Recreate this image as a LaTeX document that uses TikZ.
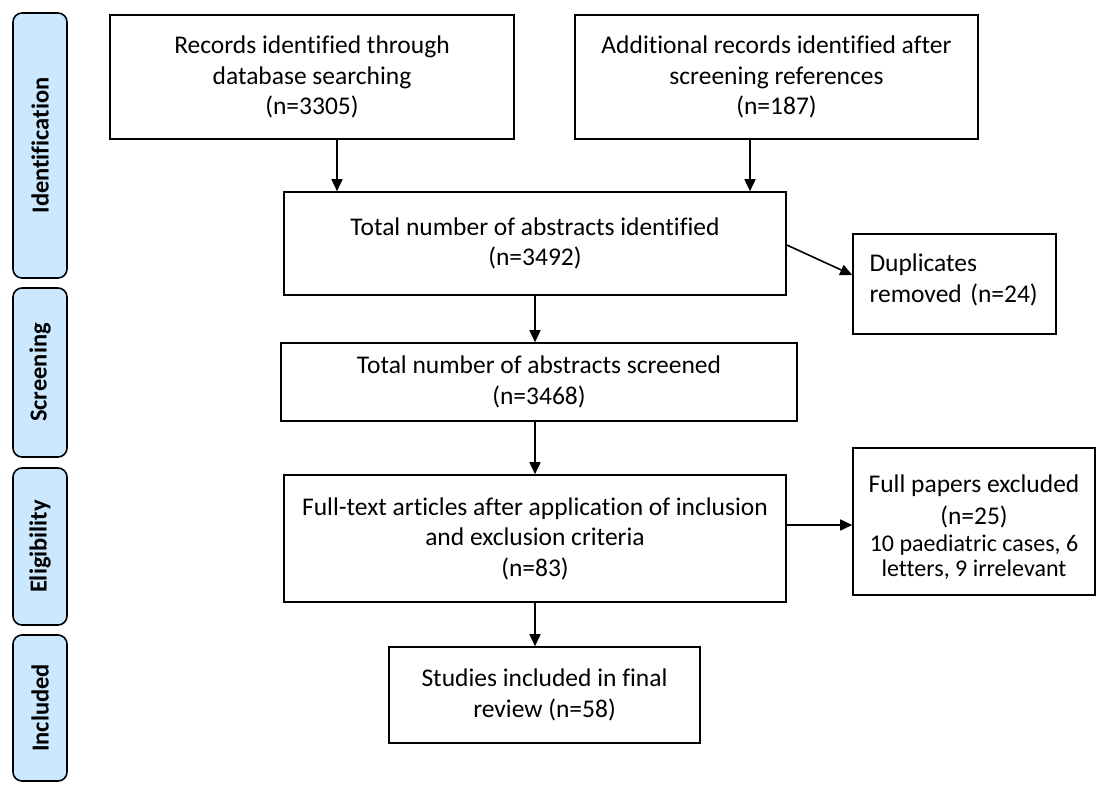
\documentclass[tikz,border=0pt]{standalone}
\usepackage{fontspec}
\setmainfont{Carlito}[Ligatures=NoCommon]
\usetikzlibrary{arrows.meta,positioning}
\definecolor{stagefill}{HTML}{CCE8FF}

\begin{document}
\begin{tikzpicture}[x=1pt, y=-1pt,
    every node/.style={font=\fontsize{25.5}{30.5}\selectfont},
    stage/.style={draw, line width=1.6pt, rounded corners=9pt, fill=stagefill,
      rotate=90, minimum height=54pt, inner sep=0pt,
      font=\fontsize{24.5}{28}\selectfont\bfseries},
    box/.style={draw, line width=1.6pt, align=center, inner sep=0pt},
    arr/.style={line width=1.6pt, -{Triangle[length=12pt, width=11pt]}}]
  \useasboundingbox (0,0) rectangle (1099,784);
  % phase labels on the left
  \node[stage, minimum width=265pt] (sid) at (40,145.5) {Identification};
  \node[stage, minimum width=169pt] (ssc) at (40,372.5) {Screening};
  \node[stage, minimum width=157pt] (sel) at (40,546.5) {Eligibility};
  \node[stage, minimum width=146pt] (sin) at (40,708) {Included};
  % main flow
  \node[box, minimum width=404pt, minimum height=124pt] (rec) at (312,77)
    {Records identified through\\database searching\\(n=3305)};
  \node[box, minimum width=403pt, minimum height=124pt] (add) at (776.5,77)
    {Additional records identified after\\screening references\\(n=187)};
  \node[box, minimum width=502pt, minimum height=103pt] (ident) at (535,243.5)
    {Total number of abstracts identified\\(n=3492)};
  \node[box, minimum width=516pt, minimum height=78pt] (scr) at (539,382)
    {Total number of abstracts screened\\(n=3468)};
  \node[box, minimum width=502pt, minimum height=127pt] (full) at (535,538.5)
    {Full-text articles after application of inclusion\\and exclusion criteria\\(n=83)};
  \node[box, minimum width=311pt, minimum height=96pt] (incl) at (544.5,695)
    {Studies included in final\\review (n=58)};
  % exclusions on the right
  \node[box, minimum width=203pt, minimum height=100pt, text width=170pt,
    align=left] (dup) at (954.5,284) {Duplicates\\removed (n=24)\\[-19pt]\mbox{}};
  \node[box, minimum width=242pt, minimum height=147pt] (excl) at (974,521.5)
    {\rule{0pt}{28.5pt}Full papers excluded\\[1.5pt](n=25)\\[-3.5pt]{\fontsize{24}{26}\selectfont 10 paediatric cases, 6}\\[-5.5pt]
     {\fontsize{24}{26}\selectfont letters, 9 irrelevant}};
  % connectors
  \draw[arr] ([xshift=25pt]rec.south) -- ([xshift=25pt]rec.south |- ident.north);
  \draw[arr] ([xshift=-26.5pt]add.south) -- ([xshift=-26.5pt]add.south |- ident.north);
  \draw[arr] (ident.south) -- (ident.south |- scr.north);
  \draw[arr] (scr.south -| full.north) -- (full.north);
  \draw[arr] (full.south) -- (full.south |- incl.north);
  \draw[arr] ([yshift=-1.5pt]ident.east) -- ([yshift=9pt]dup.west);
  \draw[arr] ([yshift=13.5pt]full.east) -- ([yshift=13.5pt]full.east -| excl.west);
\end{tikzpicture}
\end{document}
